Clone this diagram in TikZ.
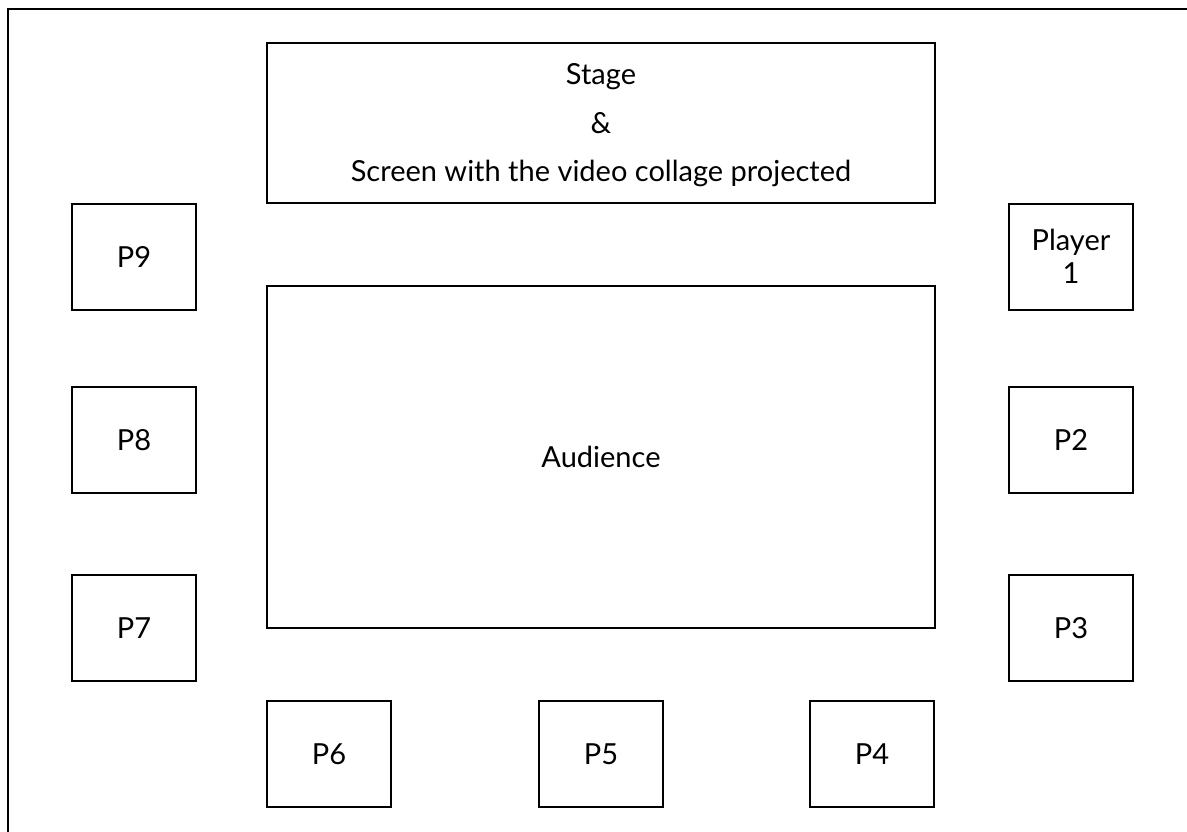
\documentclass[tikz,border=0pt]{standalone}
\usepackage{fontspec}
\setmainfont{Lato}
\begin{document}
\begin{tikzpicture}[x=1pt,y=-1pt,
  box/.style={draw=black, line width=1.3pt, inner sep=0pt, font=\fontsize{29}{33}\selectfont, align=center},
  seat/.style={box, minimum width=124pt, minimum height=106pt},
  label/.style={align=center, inner sep=0pt}]
\useasboundingbox (0,0) rectangle (1187,832);
% outer frame: top and left edges only
\draw[line width=2.6pt] (8,832) -- (8,9) -- (1187,9);
% stage and audience
\node[box, minimum width=668pt, minimum height=160pt] (stage) at (601,123) {};
\node[label, font=\fontsize{29}{28}\selectfont] (stagetext) at (601,125)
  {Stage\\[21pt]\&\\[20pt]Screen with the video collage projected};
\node[box, minimum width=668pt, minimum height=342pt] (aud) at (601,457) {Audience};
% player positions
\node[seat] (p1) at (1071,257) {};
\node[label, font=\fontsize{29}{33}\selectfont] (p1text) at (1071,256) {Player\\1};
\node[seat] (p2) at (1071,440) {P2};
\node[seat] (p3) at (1071,628) {P3};
\node[seat] (p4) at (872,754) {P4};
\node[seat] (p5) at (601,754) {P5};
\node[seat] (p6) at (329,754) {P6};
\node[seat] (p7) at (134,628) {P7};
\node[seat] (p8) at (134,440) {P8};
\node[seat] (p9) at (134,257) {P9};
\end{tikzpicture}
\end{document}
